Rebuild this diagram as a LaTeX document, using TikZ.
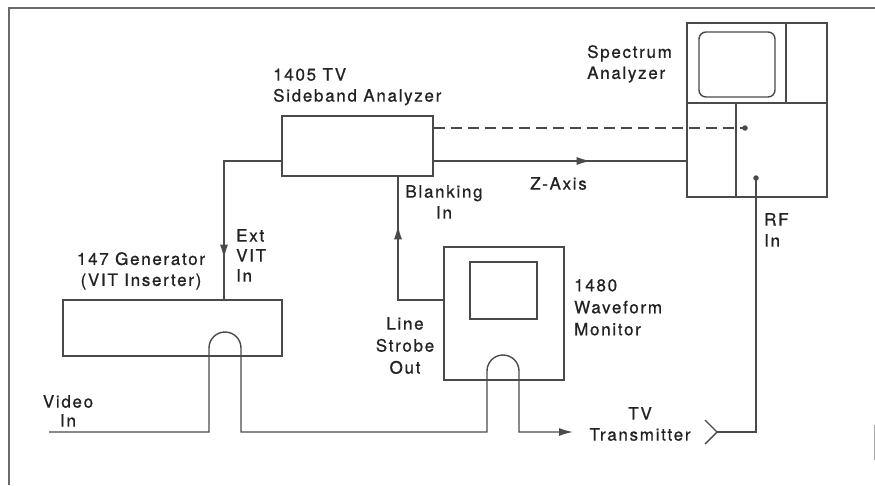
\documentclass[tikz,border=0pt]{standalone}
\usepackage{fontspec}
\setmainfont{TeX Gyre Heros}[LetterSpace=10,FakeBold=0.8]
\usetikzlibrary{arrows.meta,decorations.markings}
\definecolor{ln}{HTML}{4A4A4A}
\definecolor{txt}{HTML}{222222}
\definecolor{frm}{HTML}{6A6A6A}
\tikzset{
  wire/.style={draw=ln, line width=1.4pt},
  box/.style={draw=ln, line width=1.4pt, rectangle, inner sep=0pt},
  lbl/.style={inner sep=0pt, text=txt, font=\fontsize{17}{21}\selectfont},
  lblw/.style={inner sep=0pt, text=txt, font=\fontsize{17}{22}\selectfont},
  midarrow/.style={postaction={decorate},
    decoration={markings, mark=at position #1 with {\arrow{Latex[length=14pt,width=8pt]}}}},
  dotted/.style={circle, fill=ln, inner sep=0pt, minimum size=5.5pt}
}
\begin{document}
\begin{tikzpicture}[x=1pt,y=-1pt]
\useasboundingbox (0,0) rectangle (875,485);
% frame
\draw[draw=frm, line width=1.3pt] (9,485) -- (9,8) -- (875,8);
\draw[draw=frm!60, line width=1pt] (874,425) -- (874,460);

% boxes
\node[box, minimum width=151pt, minimum height=60pt] (sba) at (357.5,146) {};
\node[box, minimum width=219pt, minimum height=56pt] (gen) at (172.5,328) {};
\node[box, minimum width=120pt, minimum height=133pt] (mon) at (504,313.5) {};
\node[box, minimum width=67pt, minimum height=57pt] (monscr) at (503.5,290.5) {};
\node[box, minimum width=140pt, minimum height=174pt] (sa) at (757,110) {};
\node[box, rounded corners=7pt, minimum width=76pt, minimum height=65pt] (sascr) at (737,64.5) {};
\draw[wire] (687,103) -- (827,103);
\draw[wire] (786,23) -- (786,103);
\draw[wire] (736,103) -- (736,197);

% dots in spectrum analyzer
\node[dotted] (dashin) at (745,128) {};
\node[dotted] (rfin) at (756,178) {};

% coordinates
\coordinate (sbaL) at ([yshift=-15pt]sba.west);
\coordinate (sbaR) at ([yshift=-15pt]sba.east);
\coordinate (sbaRd) at ([yshift=18pt]sba.east);
\coordinate (extin) at (224,0 |- gen.north);
\coordinate (blankin) at (398,0 |- sba.south);
\coordinate (strobe) at ([yshift=13.5pt]mon.west);
\coordinate (zin) at (sa.west |- sbaR);
\coordinate (videoin) at (49,432);
\coordinate (tvtx) at (573,432);
\coordinate (txout) at (717,432);

% connectors
\draw[wire, midarrow=155pt] (sbaL) -| (extin);
\draw[wire, midarrow=120pt] (strobe) -| (blankin);
\draw[wire, midarrow=157pt] (sbaR) -- (zin);
\draw[wire, dash pattern=on 11pt off 6pt] (sbaRd) -- (dashin.center);
\draw[wire, -{Latex[length=14pt,width=8pt]}] (videoin) -- (209,432) -- (209,348)
  arc[start angle=180, end angle=0, radius=16pt] -- (241,432) -- (487,432) -- (487,371)
  arc[start angle=180, end angle=0, radius=16pt] -- (519,432) -- (tvtx);
\draw[wire] (705,420) -- (txout) -- (705,444);
\draw[wire] (txout) -| (rfin.center);

% labels
\node[lbl, anchor=north west, align=left] (l1405) at (273,68) {1405 TV\\Sideband Analyzer};
\node[lbl, anchor=north west, align=left] (lspec) at (587,45) {Spectrum\\Analyzer};
\node[lbl, anchor=north west] (lz) at (530,177) {Z-Axis};
\node[lbl, anchor=north, align=center] (lblank) at (444,185) {Blanking\\In};
\node[inner sep=0pt, text=txt, font=\fontsize{17}{20}\selectfont, anchor=north west, align=left] (lext) at (236,229) {Ext\\VIT\\In};
\node[lbl, anchor=north, align=center] (lgen) at (141,252) {147 Generator\\(VIT Inserter)};
\node[lblw, anchor=north, align=center] (lstrobe) at (405,317) {Line\\Strobe\\Out};
\node[lblw, anchor=north west, align=left] (lwfm) at (574,279) {1480\\Waveform\\Monitor};
\node[lbl, anchor=north, align=center] (ltv) at (640,407) {TV\\Transmitter};
\node[lbl, anchor=north west, align=left] (lrf) at (764,213) {RF\\In};
\node[inner sep=0pt, text=txt, font=\fontsize{17}{19}\selectfont, anchor=north, align=center] (lvideo) at (68,395) {Video\\In};
\end{tikzpicture}
\end{document}
